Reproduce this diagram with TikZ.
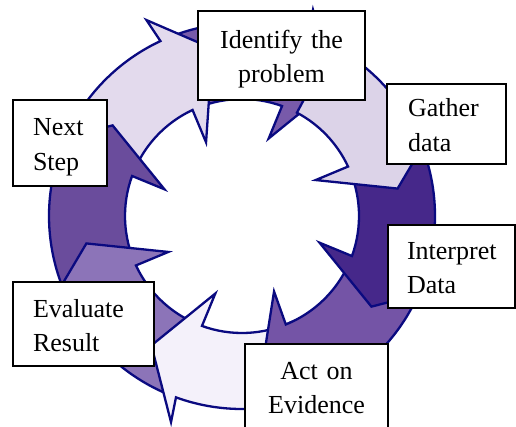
\documentclass[tikz,border=0pt]{standalone}
\usepackage{fontspec}
\setmainfont{Liberation Serif}
\usepackage{tikz}
\definecolor{rimblue}{RGB}{10,10,128}
\definecolor{arcA}{RGB}{244,241,250}
\definecolor{arcB}{RGB}{140,116,184}
\definecolor{arcC}{RGB}{106,76,156}
\definecolor{arcD}{RGB}{227,218,237}
\definecolor{arcE}{RGB}{120,90,170}
\definecolor{arcF}{RGB}{220,211,232}
\definecolor{arcG}{RGB}{70,40,138}
\definecolor{arcH}{RGB}{116,84,166}

\begin{document}
\begin{tikzpicture}[
    x=1pt, y=1pt,
    font=\fontsize{26}{34.5}\selectfont,
    piece/.style={
		draw=rimblue,
		line width=2.3pt
	},
    stage/.style={
		rectangle,
		draw=black,
		line width=1.8pt,
		fill=white,
		inner sep=0pt,
		text height=18pt,
		text depth=32pt
	}
  ]
  \useasboundingbox (0,0) rectangle (516,-427);

    % We start with the ring of curved arrows
  \begin{scope}[shift={(242,-216)}]
  \foreach \a/\t/\r/\c in {70/45/158/arcE, 115/45/170/arcD, 160/45/158/arcC,
      205/45/158/arcB, 250/45/158/arcA, 292/45/158/arcH, 340/45/158/arcG,
      385/37/158/arcF}{
    \filldraw[piece, fill=\c]
      (\a+\t:193) arc[start angle=\a+\t, end angle=\a, radius=193pt]
      -- (\a+1:218) -- (\a-15:\r) -- (\a+1:82) -- (\a:117)
      arc[start angle=\a, end angle=\a+\t, radius=117pt] -- cycle;
  }
  \end{scope}

    % then the labels on top
  \node [stage, minimum width=167pt, minimum height=89pt, text width=140pt, align=center] (identify)
    at (281.5,-55.5) {Identify the\\problem};

  \node [stage, minimum width=119pt, minimum height=80pt, text width=77pt, align=left] (gather)
    at (446.5,-124) {Gather\\data};

  \node [stage, minimum width=127pt, minimum height=83pt, text width=89pt, align=left] (interpret)
    at (451.5,-266.5) {Interpret\\Data};

  \node [stage, minimum width=143pt, minimum height=84pt, text width=120pt, align=center] (act)
    at (316.5,-386) {Act on\\Evidence};

  \node [stage, minimum width=141pt, minimum height=84pt, text width=101pt, align=left] (evaluate)
    at (83.5,-324) {Evaluate\\Result};

  \node [stage, minimum width=94pt, minimum height=86pt, text width=54pt, align=left] (next)
    at (60,-143) {Next\\Step};

\end{tikzpicture}
\end{document}
